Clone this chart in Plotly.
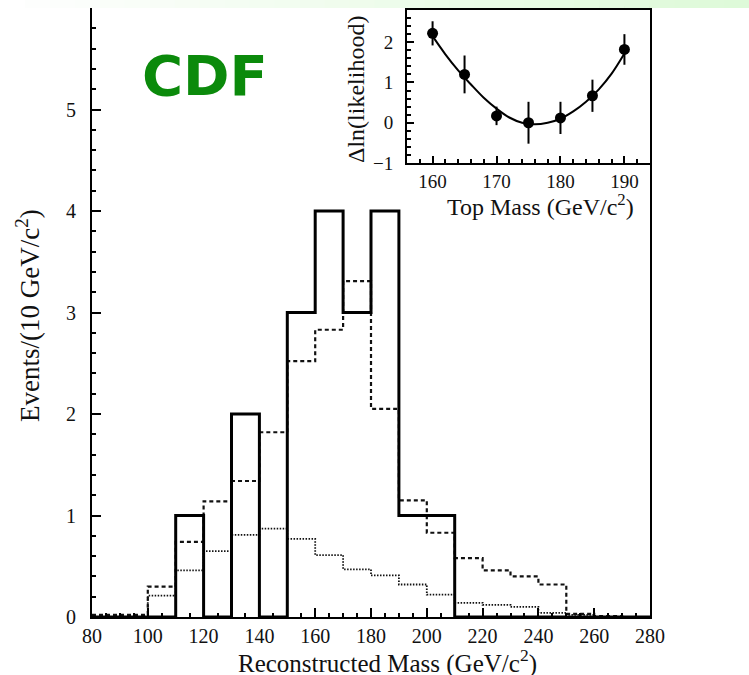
import plotly.graph_objects as go

# ---------------- data ----------------
bin_lo = [80, 90, 100, 110, 120, 130, 140, 150, 160, 170,
          180, 190, 200, 210, 220, 230, 240, 250, 260, 270]
bin_width = 10
data_counts = [0, 0, 0, 1, 0, 2, 0, 3, 4, 3, 4, 1, 1, 0, 0, 0, 0, 0, 0, 0]
sig_plus_bkg = [0.02, 0.02, 0.30, 0.74, 1.14, 1.34, 1.82, 2.52, 2.83, 3.31,
                2.05, 1.15, 0.83, 0.58, 0.46, 0.40, 0.32, 0.03, 0.01, 0.0]
background = [0.0, 0.0, 0.21, 0.46, 0.65, 0.81, 0.87, 0.77, 0.61, 0.47,
              0.41, 0.32, 0.22, 0.14, 0.12, 0.10, 0.04, 0.02, 0.0, 0.0]

top_mass = [160, 165, 170, 175, 180, 185, 190]
dlnL = [2.22, 1.20, 0.17, 0.00, 0.12, 0.67, 1.82]
dlnL_err = [0.30, 0.47, 0.23, 0.52, 0.40, 0.40, 0.38]

fit_mass = [160, 162, 164, 166, 168, 170, 172, 174, 176, 178, 180, 182, 184, 186, 188, 190]
fit_dlnL = [2.15, 1.70, 1.30, 0.95, 0.62, 0.35, 0.13, 0.00, -0.04, 0.00,
            0.10, 0.28, 0.52, 0.83, 1.22, 1.72]

# ---------------- helpers ----------------
def step(vals):
    xs = bin_lo + [bin_lo[-1] + bin_width]
    ys = list(vals) + [vals[-1]]
    return xs, ys

SERIF = "Liberation Serif, Times New Roman, serif"
W, H = 749, 675

def px(x):
    return x / W

def py(y):
    return (H - y) / H

fig = go.Figure()

x, y = step(background)
fig.add_trace(go.Scatter(x=x, y=y, mode="lines", line_shape="hv",
                         line=dict(color="#111", width=1.8, dash="1.5px,1.5px"),
                         showlegend=False, xaxis="x", yaxis="y"))
x, y = step(sig_plus_bkg)
fig.add_trace(go.Scatter(x=x, y=y, mode="lines", line_shape="hv",
                         line=dict(color="#111", width=2.2, dash="4px,3px"),
                         showlegend=False, xaxis="x", yaxis="y"))
x, y = step(data_counts)
fig.add_trace(go.Scatter(x=x, y=y, mode="lines", line_shape="hv",
                         line=dict(color="#000", width=3),
                         showlegend=False, xaxis="x", yaxis="y"))

# inset
fig.add_trace(go.Scatter(x=fit_mass, y=fit_dlnL, mode="lines", line_shape="spline",
                         line=dict(color="#000", width=2),
                         showlegend=False, xaxis="x2", yaxis="y2"))
fig.add_trace(go.Scatter(x=top_mass, y=dlnL, mode="markers",
                         marker=dict(color="#000", size=11),
                         error_y=dict(type="data", array=dlnL_err, color="#000",
                                      thickness=2, width=0),
                         showlegend=False, xaxis="x2", yaxis="y2"))

main_x = [px(92), px(650)]
main_y = [py(617), py(8)]
ins_x = [px(407), px(650)]
ins_y = [py(163), py(10)]

axis_common = dict(showline=True, linecolor="#000", linewidth=2, mirror=True,
                   ticks="inside", tickcolor="#000", showgrid=False, zeroline=False,
                   automargin=False,
                   tickfont=dict(family=SERIF, size=20, color="#111"))
inset_font = dict(family=SERIF, size=19, color="#111")

fig.update_layout(
    width=W, height=H,
    margin=dict(l=0, r=0, t=0, b=0, autoexpand=False),
    paper_bgcolor="white", plot_bgcolor="white",
    xaxis=dict(domain=main_x, range=[80, 280], dtick=20, tick0=80,
               ticklen=9, tickwidth=2,
               minor=dict(dtick=5, ticklen=4, tickcolor="#000", ticks="inside"),
               anchor="y", **axis_common),
    yaxis=dict(domain=main_y, range=[0, 6], dtick=1, ticklen=9, tickwidth=2,
               minor=dict(dtick=0.2, ticklen=4, tickcolor="#000", ticks="inside"),
               ticklabelstandoff=10,
               anchor="x", **axis_common),
    xaxis2=dict(domain=ins_x, range=[156, 194], dtick=10, tick0=160,
                ticklen=7, tickwidth=1.5,
                minor=dict(dtick=2, ticklen=4, tickcolor="#000", ticks="inside"),
                anchor="y2",
                **{**axis_common, "tickfont": inset_font}),
    yaxis2=dict(domain=ins_y, range=[-1, 2.8], dtick=1, ticklen=7, tickwidth=1.5,
                minor=dict(dtick=0.2, ticklen=4, tickcolor="#000", ticks="inside"),
                ticklabelstandoff=8,
                anchor="x2",
                **{**axis_common, "tickfont": inset_font}),
)

annotations = [
    dict(text="Reconstructed Mass (GeV/c<sup>2</sup>)", x=px(387), y=py(661),
         font=dict(family=SERIF, size=25, color="#111")),
    dict(text="Events/(10 GeV/c<sup>2</sup>)", x=px(28), y=py(316), textangle=-90,
         font=dict(family=SERIF, size=27, color="#111")),
    dict(text="Top Mass (GeV/c<sup>2</sup>)", x=px(540), y=py(205),
         font=dict(family=SERIF, size=24, color="#111")),
    dict(text="Δln(likelihood)", x=px(356), y=py(90), textangle=-90,
         font=dict(family=SERIF, size=24, color="#111")),
    dict(text="<b>CDF</b>", x=px(205), y=py(75),
         font=dict(family="Comic Sans MS, DejaVu Sans, sans-serif", size=56, color="#0b8a0b")),
]
for a in annotations:
    a.update(xref="paper", yref="paper", showarrow=False, xanchor="center", yanchor="middle")
fig.update_layout(annotations=annotations)

# faint green band at the top of the slide
shapes = []
n = 30
for i in range(n):
    t = i / (n - 1)
    r = int(255 - 33 * t)
    g = int(255 - 5 * t)
    b = int(255 - 38 * t)
    shapes.append(dict(type="rect", xref="paper", yref="paper",
                       x0=i / n, x1=(i + 1) / n + 0.001, y0=py(8), y1=1,
                       fillcolor=f"rgb({r},{g},{b})", line=dict(width=0), layer="above"))
fig.update_layout(shapes=shapes)

fig.write_html("out.html")
